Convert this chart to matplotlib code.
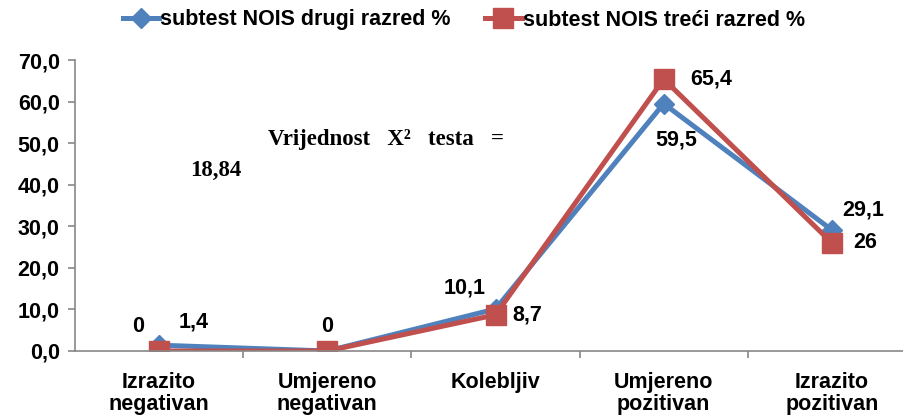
import matplotlib.pyplot as plt

categories = ["Izrazito\nnegativan", "Umjereno\nnegativan", "Kolebljiv",
              "Umjereno\npozitivan", "Izrazito\npozitivan"]
drugi = [1.4, 0, 10.1, 59.5, 29.1]
treci = [0, 0, 8.7, 65.4, 26]
drugi_labels = ["1,4", "", "10,1", "59,5", "29,1"]
treci_labels = ["0", "0", "8,7", "65,4", "26"]

blue = "#4F81BD"
red = "#C0504D"
font = "Liberation Sans"
fs = 15.5

fig = plt.figure(figsize=(9.04, 4.2), dpi=100)
ax = fig.add_axes([75 / 904, 69 / 420, 841 / 904, 291 / 420])

x = list(range(len(categories)))
ax.plot(x, drugi, color=blue, lw=3.6, marker="D", ms=10,
        label="subtest NOIS drugi razred %")
ax.plot(x, treci, color=red, lw=3.6, marker="s", ms=14,
        label="subtest NOIS treći razred %")

# data labels, offsets in pixels from the point
drugi_off = [(35, 23), (0, 0), (-31, 21), (13, -36), (31, 20)]
treci_off = [(-21, 25), (0, 25), (32, 0), (47, 0), (33, 0)]
for i in x:
    if drugi_labels[i]:
        ax.annotate(drugi_labels[i], (i, drugi[i]), xytext=drugi_off[i],
                    textcoords="offset pixels", ha="center", va="center",
                    fontsize=fs, fontweight="bold", family=font)
    ax.annotate(treci_labels[i], (i, treci[i]), xytext=treci_off[i],
                textcoords="offset pixels", ha="center", va="center",
                fontsize=fs, fontweight="bold", family=font)

ax.set_xlim(-0.5, 4.5)
ax.set_ylim(0, 70)
ax.set_yticks(range(0, 71, 10))
ax.set_yticklabels([f"{v},0" for v in range(0, 71, 10)],
                   fontsize=fs, fontweight="bold", family=font)
ax.set_xticks(x)
ax.set_xticklabels(categories, fontsize=fs, fontweight="bold", family=font,
                   linespacing=1.1)
ax.set_xticks([0.5, 1.5, 2.5, 3.5], minor=True)
ax.tick_params(axis="x", which="major", length=0, pad=15)
ax.tick_params(axis="x", which="minor", length=5, color="#888888", width=1.2)
ax.tick_params(axis="y", length=5, color="#888888", width=1.2, pad=6)
for s in ["top", "right"]:
    ax.spines[s].set_visible(False)
for s in ["left", "bottom"]:
    ax.spines[s].set_color("#888888")
    ax.spines[s].set_linewidth(1.2)

fig.text(268 / 904, 1 - 139 / 420, "Vrijednost   X²   testa   =",
         fontsize=16.5, fontweight="bold", family="Liberation Serif", va="center")
fig.text(190 / 904, 1 - 170 / 420, "18,84", fontsize=16.5, fontweight="bold",
         family="Liberation Serif", va="center")

fig.legend(loc="center", bbox_to_anchor=(0.513, 1 - 20 / 420), ncol=2,
           frameon=False, handlelength=1.7, handletextpad=0.05, columnspacing=1.6,
           prop={"family": font, "weight": "bold", "size": fs})

fig.savefig("out.png", dpi=100)
